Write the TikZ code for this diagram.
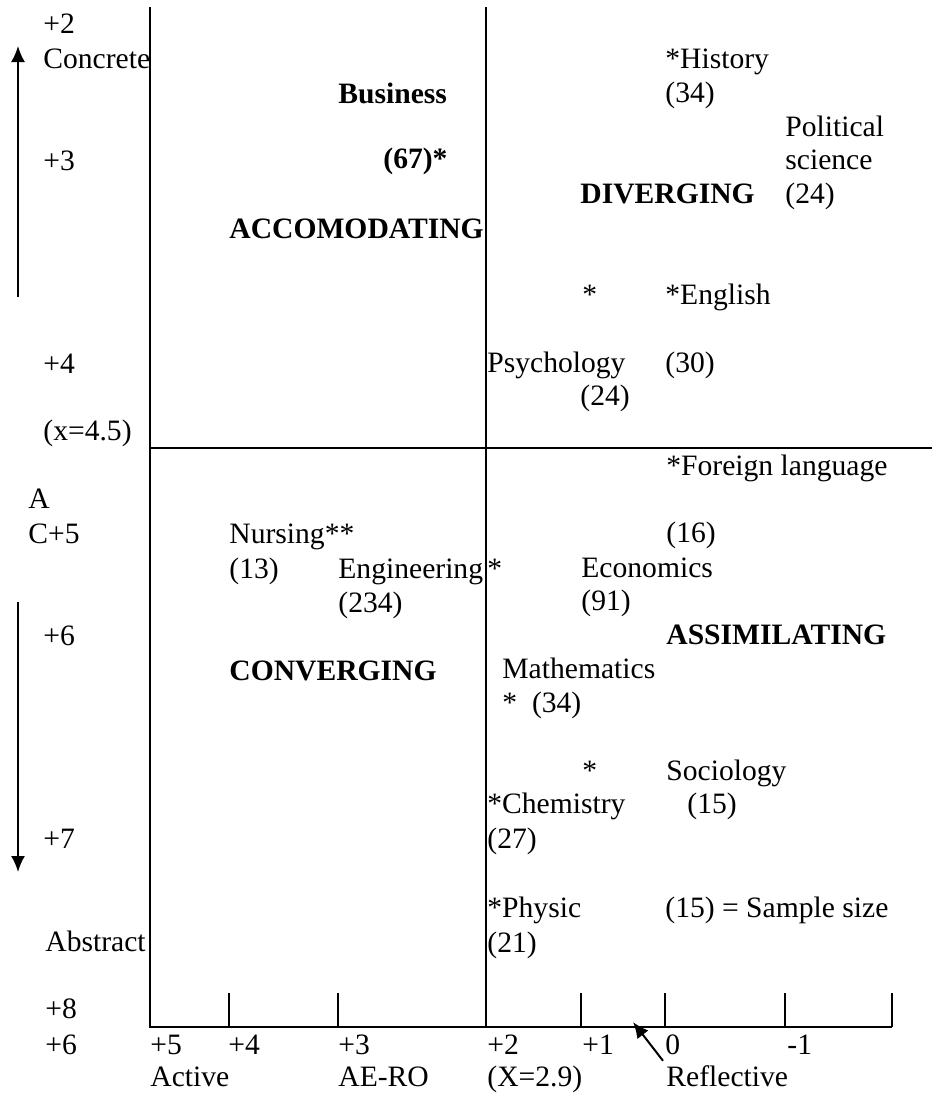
\documentclass[tikz,border=0pt]{standalone}
\usepackage{fontspec}
\setmainfont{Liberation Serif}
\usetikzlibrary{arrows.meta,positioning}

\begin{document}
\begin{tikzpicture}[x=0.5pt,y=-0.5pt,
lbl/.style={
anchor=base west,
inner sep=0pt,
font=\fontsize{14.8}{17}\selectfont},
hdr/.style={lbl,font=\fontsize{14.8}{17}\selectfont\bfseries},
axis/.style={line width=1pt},
pointer/.style={axis,-{Latex[length=8pt,width=7pt]}}]
\useasboundingbox (0,0) rectangle (932,1093);

% quadrant lines and the bottom scale
\draw[axis] (150,7) -- (150,1027) -- (892,1027);
\draw[axis] (486,7) -- (486,1027);
\draw[axis] (150,448) -- (932,448);
\foreach \t in {229,338,581,665,785,892}
  \draw[axis] (\t,993) -- (\t,1027);

% left scale
\node[lbl](y2) at (43,33) {+2};
\node[lbl](conc) at (43,68) {Concrete};
\node[lbl](y3) at (43,170) {+3};
\node[lbl](y4) at (43,373) {+4};
\node[lbl](ymean) at (43,440) {(x=4.5)};
\node[lbl](ya) at (28,508) {A};
\node[lbl](y5) at (28,543) {C+5};
\node[lbl](y6) at (43,645) {+6};
\node[lbl](y7) at (43,848) {+7};
\node[lbl](abst) at (45,951) {Abstract};
\node[lbl](y8) at (45,1018) {+8};
\coordinate (up0) at (18,297);
\coordinate (up1) at (18,46);
\coordinate (dn0) at (18,602);
\coordinate (dn1) at (18,872);
\draw[pointer] (up0) -- (up1);
\draw[pointer] (dn0) -- (dn1);

% bottom scale
\node[lbl](x6) at (45,1054) {+6};
\node[lbl](x5) at (150,1054) {+5};
\node[lbl](x4) at (228,1054) {+4};
\node[lbl](x3) at (338,1054) {+3};
\node[lbl](x2) at (487,1054) {+2};
\node[lbl](x1) at (582,1054) {+1};
\node[lbl](x0) at (665,1054) {0};
\node[lbl](xm1) at (787,1054) {-1};
\node[lbl](act) at (150,1086) {Active};
\node[lbl](aero) at (338,1086) {AE-RO};
\node[lbl](xmean) at (487,1086) {(X=2.9)};
\node[lbl](refl) at (666,1086) {Reflective};
\coordinate (tip) at (633,1022);
\draw[pointer] ([xshift=-1.5pt,yshift=2pt]refl.north west) -- (tip);

% accomodating
\node[hdr](bus) at (338,103) {Business};
\node[hdr](busn) at (383,168) {(67)*};
\node[hdr](acc) at (229,238) {ACCOMODATING};

% diverging
\node[lbl](hist) at (665,68) {*History};
\node[lbl](histn) at (665,102) {(34)};
\node[lbl](pol) at (785,136) {Political};
\node[lbl](sci) at (785,169) {science};
\node[lbl](poln) at (785,203) {(24)};
\node[hdr](div) at (580,203) {DIVERGING};
\node[lbl](psyst) at (582,304) {*};
\node[lbl](eng) at (665,304) {*English};
\node[lbl](psy) at (487,372) {Psychology};
\node[lbl](engn) at (665,372) {(30)};
\node[lbl](psyn) at (580,405) {(24)};

% converging
\node[lbl](nurs) at (229,543) {Nursing**};
\node[lbl](nursn) at (229,578) {(13)};
\node[lbl](engi) at (338,578) {Engineering};
\node[lbl](engist) at (487,578) {*};
\node[lbl](engin) at (338,612) {(234)};
\node[hdr](conv) at (229,680) {CONVERGING};

% assimilating
\node[lbl](forl) at (666,475) {*Foreign language};
\node[lbl](forln) at (666,542) {(16)};
\node[lbl](eco) at (581,577) {Economics};
\node[lbl](econ) at (581,610) {(91)};
\node[hdr](assim) at (666,644) {ASSIMILATING};
\node[lbl](math) at (502,678) {Mathematics};
\node[lbl](mathn) at (502,712) {*\ \ (34)};
\node[lbl](socst) at (582,780) {*};
\node[lbl](soc) at (666,780) {Sociology};
\node[lbl](chem) at (487,813) {*Chemistry};
\node[lbl](socn) at (687,813) {(15)};
\node[lbl](chemn) at (487,848) {(27)};
\node[lbl](phys) at (487,917) {*Physic};
\node[lbl](physn) at (487,952) {(21)};
\node[lbl](key) at (665,917) {(15) = Sample size};
\end{tikzpicture}
\end{document}
